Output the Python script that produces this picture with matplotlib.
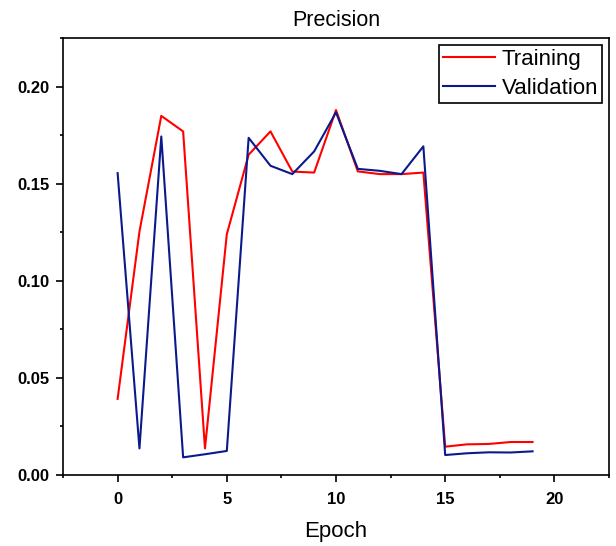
import numpy as np
import matplotlib
matplotlib.use('Agg')
import matplotlib.pyplot as plt
from matplotlib.ticker import MultipleLocator

epochs = list(range(20))
training = [0.0392, 0.1254, 0.1850, 0.1770, 0.0137, 0.1240, 0.1650, 0.1770, 0.1563, 0.1558,
            0.1880, 0.1564, 0.1550, 0.1550, 0.1558, 0.0146, 0.0158, 0.0160, 0.0170, 0.0170]
validation = [0.1555, 0.0137, 0.1744, 0.0091, 0.0107, 0.0124, 0.1737, 0.1593, 0.1550, 0.1667,
              0.1868, 0.1577, 0.1567, 0.1550, 0.1693, 0.0103, 0.0112, 0.0117, 0.0116, 0.0122]

plt.rcParams['font.family'] = ['Liberation Sans', 'DejaVu Sans']

fig = plt.figure(figsize=(6.16, 5.46), dpi=100)
ax = fig.add_axes([0.1023, 0.130, 0.8863, 0.800])
ax.plot(epochs, training, color='#ff0000', lw=1.5, label='Training')
ax.plot(epochs, validation, color='#0a1a8c', lw=1.5, label='Validation')

ax.set_xlim(-2.5, 22.5)
ax.set_ylim(0, 0.225)
ax.xaxis.set_major_locator(MultipleLocator(5))
ax.xaxis.set_minor_locator(MultipleLocator(2.5))
ax.yaxis.set_major_locator(MultipleLocator(0.05))
ax.yaxis.set_minor_locator(MultipleLocator(0.025))
ax.yaxis.set_major_formatter(matplotlib.ticker.FormatStrFormatter('%.2f'))
ax.tick_params(which='major', direction='out', length=5, width=1.2, labelsize=12, pad=5)
ax.tick_params(axis='x', which='major', pad=7)
ax.tick_params(which='minor', direction='out', length=2.5, width=1.2)
for lab in ax.get_xticklabels() + ax.get_yticklabels():
    lab.set_fontweight('bold')
for s in ax.spines.values():
    s.set_linewidth(1.2)

ax.set_title('Precision', fontsize=15.5, pad=9)
ax.set_xlabel('Epoch', fontsize=16, labelpad=10)

leg = ax.legend(loc='upper right', fontsize=16, fancybox=False, edgecolor='black',
                framealpha=1, handlelength=2.35, borderpad=0.18, labelspacing=0.35,
                handletextpad=0.3, borderaxespad=0.3)
leg.get_frame().set_linewidth(1.2)

fig.savefig('out.png', dpi=100)
